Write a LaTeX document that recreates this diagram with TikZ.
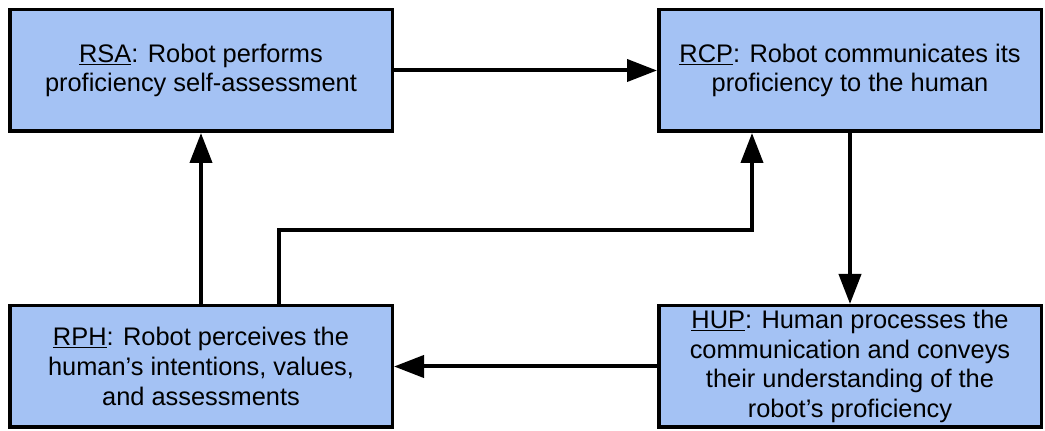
\documentclass[tikz,border=0pt]{standalone}
\usepackage{fontspec}
\setmainfont{Liberation Sans}
\usetikzlibrary{arrows.meta}
\definecolor{boxblue}{HTML}{A4C2F4}
\tikzset{
	stagebox/.style={draw=black,fill=boxblue,line width=3.5pt,minimum width=382.5pt,minimum height=121.5pt,align=center,inner sep=0pt},
	flow/.style={line width=4pt,-{Triangle[length=30pt,width=22pt]}}
}
\begin{document}
\begin{tikzpicture}[x=1pt,y=1pt,every node/.style={black,font=\fontsize{25.4}{29.6}\selectfont}]
	\useasboundingbox (0,0) rectangle (1045,431);
%	\coordinate (    ) at (x, 431-y);
	\coordinate (cRSA) at (201, 360.5);
	\coordinate (cRCP) at (850, 360.5);
	\coordinate (cRPH) at (201, 64.5);
	\coordinate (cHUP) at (850, 64.5);
	\coordinate (split) at (279, 201);
	\coordinate (turn) at (752, 201);

	\node[stagebox] (RSA) at (cRSA) {\underline{RSA}: Robot performs\\proficiency self-assessment};
	\node[stagebox] (RCP) at (cRCP) {\underline{RCP}: Robot communicates its\\proficiency to the human};
	\node[stagebox] (RPH) at (cRPH) {\underline{RPH}: Robot perceives the\\human’s intentions, values,\\and assessments};
	\node[stagebox] (HUP) at (cHUP) {\underline{HUP}: Human processes the\\communication and conveys\\their understanding of the\\robot’s proficiency};

	\draw[flow] (RSA) -- (RCP);
	\draw[flow] (RCP) -- (HUP);
	\draw[flow] (HUP) -- (RPH);
	\draw[flow] (RPH) -- (RSA);
	\draw[flow] (RPH.north -| split) |- (turn) -- (RCP.south -| turn);
\end{tikzpicture}
\end{document}
